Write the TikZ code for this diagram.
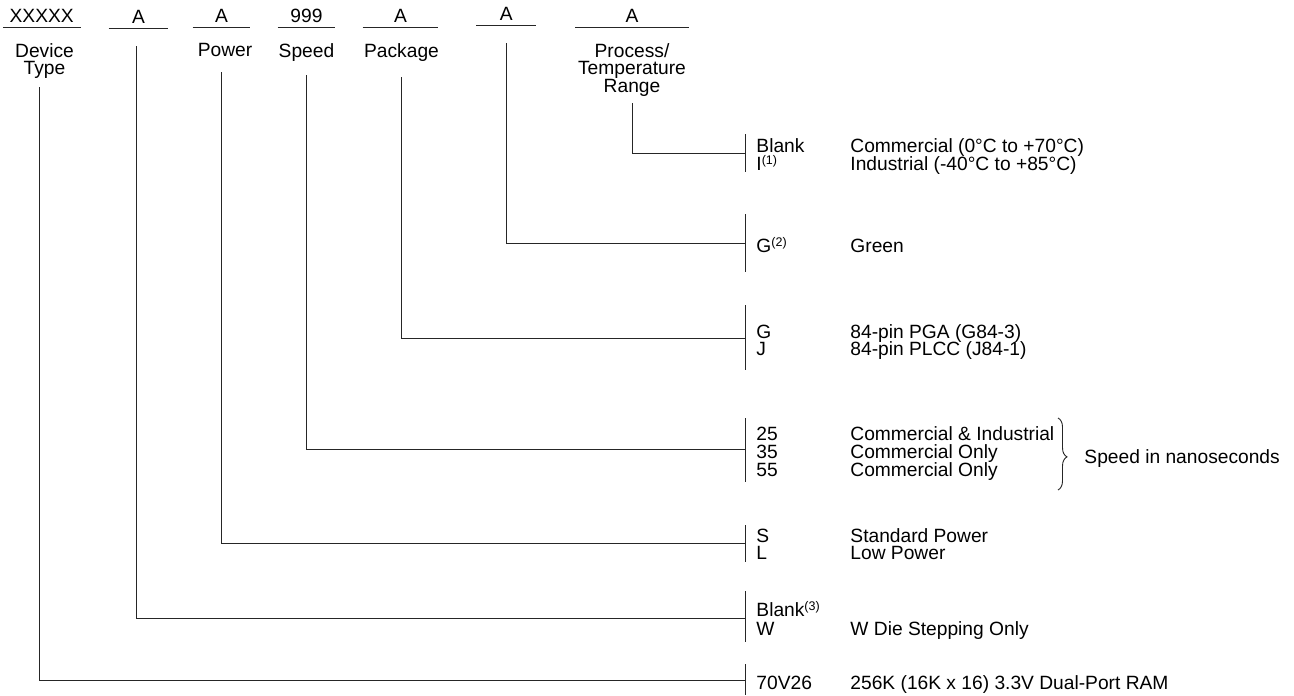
\documentclass[tikz,border=0pt]{standalone}
\usepackage{fontspec}
\setmainfont{Liberation Sans}
\usetikzlibrary{decorations.pathreplacing}
\newcommand\supnum[1]{\raisebox{0.3em}{\fontsize{12.5}{12.5}\selectfont(#1)}}

\begin{document}
\begin{tikzpicture}[x=1pt,y=-1pt,line width=0.9pt,
  txt/.style={inner sep=0pt,font=\fontsize{19.2}{16.8}\selectfont},
  field/.style={txt,anchor=south,inner ysep=4.5pt},
  head/.style={txt,anchor=north,align=center},
  code/.style={txt,anchor=base west},
  wire/.style={draw=black!85}]
  \useasboundingbox (0,0) rectangle (1294,696);
  \node[field,minimum width=77pt] (f0) at (41.7,27.3) {XXXXX};
  \node[field,minimum width=59pt] (f1) at (138.5,28.3) {A};
  \node[field,minimum width=57pt] (f2) at (221.5,27.3) {A};
  \node[field,minimum width=57pt] (f3) at (306.5,27.3) {999};
  \node[field,minimum width=75pt] (f4) at (400.5,27.3) {A};
  \node[field,minimum width=59pt] (f5) at (506.2,25.5) {A};
  \node[field,minimum width=113pt] (f6) at (632,27.3) {A};
  \draw[wire] (f0.south west) -- (f0.south east);
  \draw[wire] (f1.south west) -- (f1.south east);
  \draw[wire] (f2.south west) -- (f2.south east);
  \draw[wire] (f3.south west) -- (f3.south east);
  \draw[wire] (f4.south west) -- (f4.south east);
  \draw[wire] (f5.south west) -- (f5.south east);
  \draw[wire] (f6.south west) -- (f6.south east);
  \node[head] (h0) at (44.5,43) {Device\\Type};
  \node[head] (h2) at (225,43) {Power};
  \node[head] (h3) at (306.5,43) {Speed};
  \node[head] (h4) at (401.5,43) {Package};
  \node[head] (h6) at (632,43) {Process/\\Temperature\\Range};
  \coordinate (s0) at (39.5,87);
  \coordinate (s1) at (136.7,46);
  \coordinate (s2) at (221.7,72);
  \coordinate (s3) at (306.7,75);
  \coordinate (s4) at (401.7,77);
  \coordinate (s5) at (506.7,43);
  \coordinate (s6) at (632.3,103);
  \coordinate (t0) at (745,664);  \coordinate (m0) at (745,680); \coordinate (u0) at (745,695);
  \coordinate (t1) at (745,591);  \coordinate (m1) at (745,618); \coordinate (u1) at (745,642);
  \coordinate (t2) at (745,525);  \coordinate (m2) at (745,543); \coordinate (u2) at (745,562);
  \coordinate (t3) at (745,418);  \coordinate (m3) at (745,449); \coordinate (u3) at (745,482);
  \coordinate (t4) at (745,305);  \coordinate (m4) at (745,338); \coordinate (u4) at (745,370);
  \coordinate (t5) at (745,214);  \coordinate (m5) at (745,243); \coordinate (u5) at (745,272);
  \coordinate (t6) at (745,134);  \coordinate (m6) at (745,153); \coordinate (u6) at (745,172);
  \draw[wire] (s0) |- (m0);
  \draw[wire] (s1) |- (m1);
  \draw[wire] (s2) |- (m2);
  \draw[wire] (s3) |- (m3);
  \draw[wire] (s4) |- (m4);
  \draw[wire] (s5) |- (m5);
  \draw[wire] (s6) |- (m6);
  \draw[wire] (t0) -- (u0);
  \draw[wire] (t1) -- (u1);
  \draw[wire] (t2) -- (u2);
  \draw[wire] (t3) -- (u3);
  \draw[wire] (t4) -- (u4);
  \draw[wire] (t5) -- (u5);
  \draw[wire] (t6) -- (u6);
  \node[code] (c6a) at (756,152.5) {Blank};
  \node[code] (c6b) at (756,170) {I\supnum{1}};
  \node[code] (d6a) at (850,152.5) {Commercial (0°C to +70°C)};
  \node[code] (d6b) at (850,170) {Industrial (-40°C to +85°C)};
  \node[code] (c5a) at (756,252) {G\supnum{2}};
  \node[code] (d5a) at (850,252) {Green};
  \node[code] (c4a) at (756,338) {G};
  \node[code] (c4b) at (756,355) {J};
  \node[code] (d4a) at (850,338) {84-pin PGA (G84-3)};
  \node[code] (d4b) at (850,355) {84-pin PLCC (J84-1)};
  \node[code] (c3a) at (756,440) {25};
  \node[code] (c3b) at (756,458) {35};
  \node[code] (c3c) at (756,476) {55};
  \node[code] (d3a) at (850,440) {Commercial \& Industrial};
  \node[code] (d3b) at (850,458) {Commercial Only};
  \node[code] (d3c) at (850,476) {Commercial Only};
  \coordinate (br1) at (1058,418);
  \coordinate (br2) at (1058,490);
  \draw[wire,decorate,decoration={brace,amplitude=9pt,aspect=0.54}] (br1) -- (br2);
  \node[code] (sp) at (1084,463) {Speed in nanoseconds};
  \node[code] (c2a) at (756,542) {S};
  \node[code] (c2b) at (756,559) {L};
  \node[code] (d2a) at (850,542) {Standard Power};
  \node[code] (d2b) at (850,559) {Low Power};
  \node[code] (c1a) at (756,616) {Blank\supnum{3}};
  \node[code] (c1b) at (756,635) {W};
  \node[code] (d1b) at (850,635) {W Die Stepping Only};
  \node[code] (c0a) at (756,689) {70V26};
  \node[code] (d0a) at (850,689) {256K (16K x 16) 3.3V Dual-Port RAM};
\end{tikzpicture}
\end{document}
